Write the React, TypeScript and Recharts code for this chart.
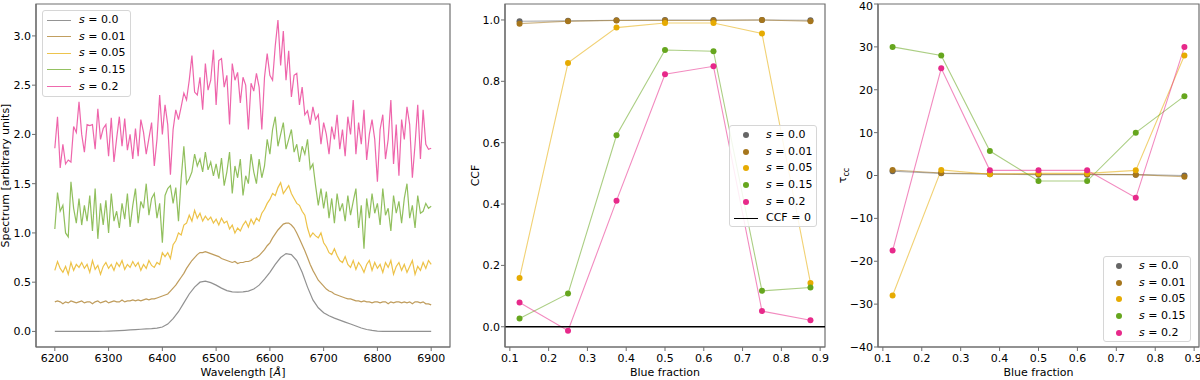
import { ComposedChart, Label, Line, ReferenceArea, ReferenceLine, XAxis, YAxis } from "recharts"

const FONT = "'DejaVu Sans', 'Liberation Sans', sans-serif"
const SPINE = "#6f6f6f"
const PLOT_H = 380

// series labels / colours (shared by all three panels)
const seriesLabels = ["0.0", "0.01", "0.05", "0.15", "0.2"]
const seriesColors = ["#666666", "#a6761d", "#e6ab02", "#66a61e", "#e7298a"]

// ---- left panel: spectra, wavelength grid starts at 6200 Å
const waveStart = 6200
const smoothStep = 10
const noisyStep = 5
const waveTicks = [6200, 6300, 6400, 6500, 6600, 6700, 6800, 6900]
const specTicks = [0, 0.5, 1, 1.5, 2, 2.5, 3]

// s = 0.0, every 10 Å
const spec00 = [
  0, 0, 0, 0, 0, 0, 0, 0.001, 0.001, 0.002,
  0.003, 0.005, 0.008, 0.011, 0.015, 0.018, 0.022, 0.025, 0.028, 0.033,
  0.045, 0.075, 0.13, 0.2, 0.29, 0.38, 0.45, 0.5, 0.51, 0.495,
  0.47, 0.44, 0.415, 0.402, 0.4, 0.402, 0.41, 0.43, 0.47, 0.53,
  0.6, 0.68, 0.75, 0.79, 0.78, 0.72, 0.6, 0.45, 0.32, 0.24,
  0.19, 0.16, 0.135, 0.115, 0.095, 0.075, 0.055, 0.035, 0.02, 0.01,
  0.004, 0.001, 0, 0, 0, 0, 0, 0, 0, 0,
  0,
]

// the noisy ones, every 5 Å
const spec001 = [
  0.30, 0.31, 0.30, 0.28, 0.30, 0.29, 0.31, 0.30, 0.29, 0.30,
  0.31, 0.29, 0.30, 0.30, 0.28, 0.30, 0.31, 0.29, 0.30, 0.31,
  0.29, 0.30, 0.31, 0.30, 0.30, 0.32, 0.30, 0.31, 0.31, 0.32,
  0.31, 0.32, 0.31, 0.32, 0.33, 0.32, 0.33, 0.33, 0.34, 0.35,
  0.36, 0.37, 0.38, 0.41, 0.44, 0.47, 0.51, 0.55, 0.59, 0.64,
  0.68, 0.72, 0.75, 0.78, 0.80, 0.80, 0.81, 0.80, 0.79, 0.78,
  0.77, 0.76, 0.74, 0.73, 0.72, 0.71, 0.70, 0.71, 0.69, 0.70,
  0.70, 0.71, 0.71, 0.72, 0.74, 0.75, 0.77, 0.80, 0.83, 0.87,
  0.90, 0.95, 0.99, 1.03, 1.06, 1.09, 1.10, 1.10, 1.08, 1.05,
  1.00, 0.94, 0.88, 0.82, 0.75, 0.68, 0.62, 0.57, 0.52, 0.49,
  0.46, 0.43, 0.41, 0.40, 0.38, 0.37, 0.36, 0.35, 0.34, 0.33,
  0.33, 0.32, 0.31, 0.31, 0.30, 0.31, 0.30, 0.30, 0.29, 0.30,
  0.30, 0.29, 0.30, 0.30, 0.28, 0.30, 0.29, 0.30, 0.30, 0.29,
  0.30, 0.29, 0.30, 0.28, 0.30, 0.30, 0.29, 0.30, 0.28, 0.28,
  0.27,
]

const spec005 = [
  0.62, 0.71, 0.64, 0.60, 0.66, 0.58, 0.70, 0.62, 0.68, 0.65,
  0.70, 0.64, 0.68, 0.60, 0.72, 0.63, 0.67, 0.58, 0.66, 0.70,
  0.64, 0.68, 0.62, 0.70, 0.66, 0.72, 0.63, 0.68, 0.65, 0.71,
  0.66, 0.70, 0.62, 0.68, 0.64, 0.72, 0.67, 0.65, 0.70, 0.68,
  0.80, 0.76, 0.80, 0.74, 0.88, 0.92, 1.00, 0.98, 1.08, 1.10,
  1.18, 1.12, 1.23, 1.15, 1.20, 1.12, 1.17, 1.13, 1.16, 1.10,
  1.14, 1.08, 1.15, 1.10, 1.12, 1.04, 1.08, 1.00, 1.05, 1.02,
  1.08, 1.12, 1.06, 1.14, 1.09, 1.15, 1.12, 1.20, 1.24, 1.30,
  1.34, 1.40, 1.38, 1.46, 1.51, 1.40, 1.44, 1.48, 1.40, 1.35,
  1.30, 1.28, 1.22, 1.18, 1.05, 0.96, 1.00, 0.97, 0.95, 1.00,
  0.90, 0.86, 0.80, 0.78, 0.84, 0.77, 0.72, 0.70, 0.76, 0.68,
  0.65, 0.72, 0.63, 0.70, 0.66, 0.60, 0.68, 0.72, 0.62, 0.70,
  0.64, 0.68, 0.60, 0.70, 0.65, 0.72, 0.58, 0.66, 0.70, 0.62,
  0.68, 0.60, 0.66, 0.72, 0.58, 0.66, 0.62, 0.70, 0.64, 0.72,
  0.68,
]

const spec015 = [
  1.04, 1.41, 1.22, 1.28, 1.00, 0.96, 1.52, 1.25, 1.10, 1.35,
  1.08, 1.28, 1.12, 1.38, 1.02, 1.45, 0.94, 1.30, 1.08, 1.33,
  1.00, 1.40, 1.12, 1.22, 1.05, 1.30, 1.14, 1.40, 1.06, 1.28,
  1.45, 1.10, 1.32, 1.25, 1.50, 1.18, 1.35, 1.40, 1.15, 1.30,
  0.90, 1.38, 1.45, 1.48, 1.30, 1.46, 1.12, 1.55, 1.88, 1.50,
  1.55, 1.62, 1.80, 1.68, 1.75, 1.62, 1.82, 1.64, 1.72, 1.58,
  1.70, 1.55, 1.76, 1.48, 1.62, 1.82, 1.40, 1.68, 1.56, 1.75,
  1.38, 1.58, 1.50, 1.80, 1.62, 1.50, 1.75, 1.56, 1.68, 1.95,
  1.80, 2.05, 2.18, 1.88, 2.00, 2.12, 1.85, 1.95, 2.05, 1.82,
  1.90, 1.72, 1.88, 1.80, 1.95, 1.65, 1.70, 1.48, 1.28, 1.45,
  1.25, 1.42, 1.15, 1.35, 1.10, 1.40, 1.22, 1.30, 1.12, 1.38,
  1.18, 1.32, 1.45, 1.05, 1.28, 0.84, 1.35, 1.15, 1.40, 1.20,
  1.30, 1.08, 1.45, 1.18, 1.25, 1.02, 1.38, 1.20, 1.32, 1.10,
  1.35, 1.50, 1.15, 1.28, 1.05, 1.38, 1.20, 1.22, 1.30, 1.25,
  1.27,
]

const spec02 = [
  1.86, 2.18, 1.66, 1.90, 1.70, 1.74, 1.72, 2.08, 2.02, 2.33,
  2.00, 1.82, 2.10, 2.09, 2.10, 1.85, 2.26, 1.95, 2.06, 2.10,
  1.78, 2.17, 1.72, 1.96, 2.18, 1.88, 2.16, 1.84, 2.00, 1.75,
  2.06, 1.78, 2.15, 2.02, 1.80, 1.96, 2.12, 1.68, 1.95, 2.40,
  2.00, 2.30, 2.10, 1.59, 2.05, 2.25, 2.15, 2.28, 2.42, 2.35,
  2.55, 2.80, 2.43, 2.40, 2.58, 2.25, 2.72, 2.45, 2.55, 2.86,
  2.30, 2.75, 2.77, 2.48, 2.60, 2.10, 2.72, 2.55, 2.63, 2.32,
  2.58, 2.50, 2.05, 2.52, 2.44, 2.62, 2.48, 2.05, 2.58, 2.82,
  2.60, 2.55, 2.90, 3.16, 2.70, 3.05, 2.55, 2.85, 2.38, 2.60,
  2.62, 2.30, 2.48, 2.20, 2.24, 2.10, 2.28, 2.15, 2.20, 1.90,
  2.12, 2.00, 1.80, 2.08, 1.95, 2.20, 1.85, 2.05, 1.78, 2.18,
  2.00, 2.35, 1.80, 2.12, 1.90, 2.25, 1.74, 2.00, 2.15, 1.95,
  1.52, 2.05, 2.20, 1.75, 1.95, 2.35, 1.70, 2.10, 1.58, 2.15,
  1.95, 2.28, 2.10, 1.56, 1.90, 2.30, 1.75, 2.25, 1.90, 1.85,
  1.86,
]

// ---- middle & right panels
const blueFraction = [0.125, 0.25, 0.375, 0.5, 0.625, 0.75, 0.875]
const fracTicks = [0.1, 0.2, 0.3, 0.4, 0.5, 0.6, 0.7, 0.8, 0.9]

const ccf00 = [0.996, 0.997, 0.999, 1.0, 1.0, 1.0, 0.999]
const ccf001 = [0.988, 0.996, 0.998, 0.998, 0.998, 1.0, 0.996]
const ccf005 = [0.159, 0.86, 0.975, 0.99, 0.99, 0.956, 0.143]
const ccf015 = [0.027, 0.108, 0.624, 0.902, 0.898, 0.117, 0.128]
const ccf02 = [0.079, -0.013, 0.411, 0.823, 0.849, 0.051, 0.021]
const ccfTicks = [0, 0.2, 0.4, 0.6, 0.8, 1.0]

const tau00 = [1.0, 0.5, 0.3, 0.2, 0.2, 0.2, 0.0]
const tau001 = [1.3, 0.6, 0.4, 0.3, 0.3, 0.2, -0.3]
const tau005 = [-28, 1.3, 0.3, 0.5, 0.5, 1.2, 28]
const tau015 = [30, 28, 5.7, -1.3, -1.3, 10, 18.5]
const tau02 = [-17.5, 25, 1.2, 1.2, 1.2, -5.2, 30]
const tauTicks = [-40, -30, -20, -10, 0, 10, 20, 30, 40]

const ccfSeries = [ccf00, ccf001, ccf005, ccf015, ccf02]
const tauSeries = [tau00, tau001, tau005, tau015, tau02]

const blueRows = blueFraction.map((x, i) => {
  const row: Record<string, number> = { x }
  ccfSeries.forEach((arr, k) => (row[`c${k}`] = arr[i]))
  tauSeries.forEach((arr, k) => (row[`t${k}`] = arr[i]))
  return row
})

const toSpectrum = (values: number[], step: number) =>
  values.map((v, i) => ({ w: waveStart + i * step, v }))

const spectra = [
  toSpectrum(spec00, smoothStep),
  toSpectrum(spec001, noisyStep),
  toSpectrum(spec005, noisyStep),
  toSpectrum(spec015, noisyStep),
  toSpectrum(spec02, noisyStep),
]

const tickStyle = { fill: "#000", fontSize: 11, fontFamily: FONT }
const fmt1 = (v: number) => v.toFixed(1)
const fmtInt = (v: number) => (v < 0 ? `\u2212${Math.abs(v)}` : String(v))

function yTitle(x: number, body: React.ReactNode) {
  return (props: any) => {
    const vb = props.viewBox || { y: 4, height: 343 }
    const cy = vb.y + vb.height / 2
    return (
      <text
        x={x}
        y={cy}
        transform={`rotate(-90 ${x} ${cy})`}
        textAnchor="middle"
        fontSize={11}
        fontFamily={FONT}
        fill="#000"
      >
        {body}
      </text>
    )
  }
}

function xTitle(body: React.ReactNode) {
  return (props: any) => {
    const vb = props.viewBox
    return (
      <text
        x={vb.x + vb.width / 2}
        y={376}
        textAnchor="middle"
        fontSize={11}
        fontFamily={FONT}
        fill="#000"
      >
        {body}
      </text>
    )
  }
}

// the box around each plot area
function frame(domainX: number[], domainY: number[]) {
  return (
    <ReferenceArea
      x1={domainX[0]}
      x2={domainX[1]}
      y1={domainY[0]}
      y2={domainY[1]}
      fill="none"
      stroke={SPINE}
      strokeWidth={1.2}
      ifOverflow="visible"
    />
  )
}

function LegendBox({
  left,
  top,
  width,
  height,
  markerX,
  textX,
  kind,
  extra,
}: {
  left: number
  top: number
  width: number
  height: number
  markerX: number
  textX: number
  kind: "line" | "dot"
  extra?: boolean
}) {
  const rowH = 16.65
  const rows = seriesLabels.map((lbl, i) => (
    <div
      key={lbl}
      style={{ position: "absolute", left: 0, top: 9 + i * rowH - 8, height: 16, width: "100%" }}
    >
      {kind === "line" ? (
        <span
          style={{
            position: "absolute",
            left: 4,
            top: 7.5,
            width: 24,
            borderTop: `1.5px solid ${seriesColors[i]}`,
            opacity: 0.7,
          }}
        />
      ) : (
        <span
          style={{
            position: "absolute",
            left: markerX - 3,
            top: 5,
            width: 6,
            height: 6,
            borderRadius: 3,
            background: seriesColors[i],
          }}
        />
      )}
      <span style={{ position: "absolute", left: textX, top: 0, lineHeight: "16px" }}>
        <i>s</i> = {lbl}
      </span>
    </div>
  ))
  return (
    <div
      style={{
        position: "absolute",
        left,
        top,
        width,
        height,
        border: "1px solid #d6d6d6",
        borderRadius: 3,
        background: "rgba(255,255,255,0.85)",
        boxSizing: "border-box",
        fontFamily: FONT,
        fontSize: 11,
        color: "#000",
        whiteSpace: "nowrap",
      }}
    >
      {rows}
      {extra && (
        <div style={{ position: "absolute", left: 0, top: 9 + 5 * rowH - 8, height: 16, width: "100%" }}>
          <span style={{ position: "absolute", left: 4, top: 7.5, width: 24, borderTop: "1.5px solid #000" }} />
          <span style={{ position: "absolute", left: textX, top: 0, lineHeight: "16px" }}>CCF = 0</span>
        </div>
      )}
    </div>
  )
}

function SpectrumPanel() {
  const dx = [6165, 6935]
  const dy = [-0.158, 3.324]
  return (
    <ComposedChart width={460} height={PLOT_H} margin={{ top: 4, right: 10, bottom: 0, left: 0 }}>
      <XAxis
        dataKey="w"
        type="number"
        domain={dx}
        ticks={waveTicks}
        height={33}
        tick={tickStyle}
        tickSize={4}
        tickMargin={3}
        tickLine={{ stroke: SPINE }}
        axisLine={{ stroke: SPINE, strokeWidth: 1.2 }}
        allowDataOverflow
      >
        <Label
          content={xTitle(
            <>
              Wavelength [<tspan fontStyle="italic">Å</tspan>]
            </>,
          )}
        />
      </XAxis>
      <YAxis
        type="number"
        domain={dy}
        ticks={specTicks}
        width={36}
        tick={tickStyle}
        tickFormatter={fmt1}
        tickSize={4}
        tickMargin={1}
        tickLine={{ stroke: SPINE }}
        axisLine={{ stroke: SPINE, strokeWidth: 1.2 }}
        allowDataOverflow
      >
        <Label content={yTitle(9, "Spectrum [arbitrary units]")} />
      </YAxis>
      {spectra.map((data, k) => (
        <Line
          key={k}
          data={data}
          dataKey="v"
          type="linear"
          stroke={seriesColors[k]}
          strokeOpacity={0.72}
          strokeWidth={1.2}
          dot={false}
          activeDot={false}
          isAnimationActive={false}
        />
      ))}
      {frame(dx, dy)}
    </ComposedChart>
  )
}

function FractionPanel({
  prefix,
  yDomain,
  yTicks,
  yFmt,
  yWidth,
  width,
  right,
  title,
  titleX,
  zeroLine,
}: {
  prefix: string
  yDomain: number[]
  yTicks: number[]
  yFmt: (v: number) => string
  yWidth: number
  width: number
  right: number
  title: React.ReactNode
  titleX: number
  zeroLine?: boolean
}) {
  const dx = [0.0875, 0.9125]
  return (
    <ComposedChart
      width={width}
      height={PLOT_H}
      data={blueRows}
      margin={{ top: 4, right, bottom: 0, left: 0 }}
    >
      <XAxis
        dataKey="x"
        type="number"
        domain={dx}
        ticks={fracTicks}
        tickFormatter={fmt1}
        height={33}
        tick={tickStyle}
        tickSize={4}
        tickMargin={3}
        tickLine={{ stroke: SPINE }}
        axisLine={{ stroke: SPINE, strokeWidth: 1.2 }}
        allowDataOverflow
      >
        <Label content={xTitle("Blue fraction")} />
      </XAxis>
      <YAxis
        type="number"
        domain={yDomain}
        ticks={yTicks}
        tickFormatter={yFmt}
        width={yWidth}
        tick={tickStyle}
        tickSize={4}
        tickMargin={1}
        tickLine={{ stroke: SPINE }}
        axisLine={{ stroke: SPINE, strokeWidth: 1.2 }}
        allowDataOverflow
      >
        <Label content={yTitle(titleX, title)} />
      </YAxis>
      {seriesColors.map((c, k) => (
        <Line
          key={k}
          dataKey={`${prefix}${k}`}
          type="linear"
          stroke={c}
          strokeOpacity={0.55}
          strokeWidth={1.1}
          dot={{ r: 3, fill: c, stroke: c, strokeWidth: 0, fillOpacity: 1 }}
          activeDot={false}
          isAnimationActive={false}
        />
      ))}
      {zeroLine && <ReferenceLine y={0} stroke="#000" strokeWidth={1.4} />}
      {frame(dx, yDomain)}
    </ComposedChart>
  )
}

export default function App() {
  return (
    <div style={{ position: "absolute", left: 0, top: 0, width: 1200, height: 380, background: "#fff", overflow: "hidden" }}>
      <div style={{ position: "absolute", left: 0, top: 0 }}>
        <SpectrumPanel />
      </div>
      <div style={{ position: "absolute", left: 450, top: 0 }}>
        <FractionPanel
          prefix="c"
          yDomain={[-0.066, 1.052]}
          yTicks={ccfTicks}
          yFmt={fmt1}
          yWidth={55}
          width={380}
          right={5}
          title="CCF"
          titleX={29}
          zeroLine
        />
      </div>
      <div style={{ position: "absolute", left: 830, top: 0 }}>
        <FractionPanel
          prefix="t"
          yDomain={[-40, 40]}
          yTicks={tauTicks}
          yFmt={fmtInt}
          yWidth={48}
          width={370}
          right={1}
          title={
            <>
              τ<tspan fontSize={8} dy={3}>cc</tspan>
            </>
          }
          titleX={16}
        />
      </div>
      <LegendBox left={42} top={10} width={89} height={87} markerX={16} textX={36} kind="line" />
      <LegendBox left={729} top={125} width={88} height={102} markerX={16} textX={36} kind="dot" extra />
      <LegendBox left={1103} top={256} width={88} height={86} markerX={15} textX={35} kind="dot" />
    </div>
  )
}
